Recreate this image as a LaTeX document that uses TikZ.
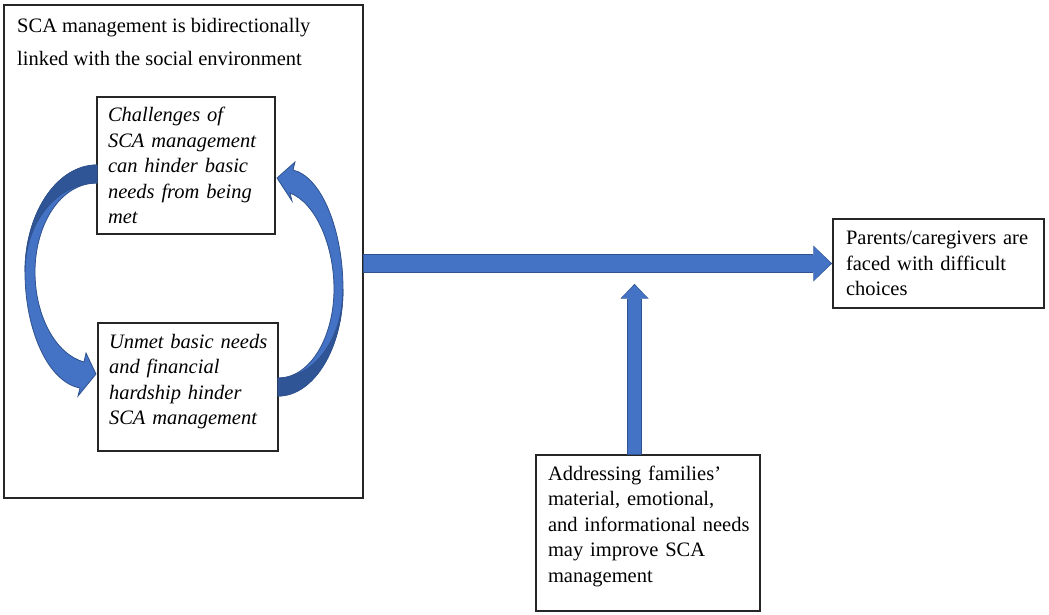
\documentclass[tikz,border=0pt]{standalone}
\usepackage{fontspec}
\setmainfont{Liberation Serif}
\usetikzlibrary{arrows.meta}
\definecolor{flowblue}{HTML}{4472C4}
\definecolor{flowdark}{HTML}{2F5597}
\definecolor{flowedge}{HTML}{2F528F}

\tikzset{
  box/.style={draw=black!85, line width=1.1pt, align=left, inner sep=0pt,
    font=\fontsize{20.5}{25.5}\selectfont,
    execute at begin node={\rightskip=0pt plus 1fil minus 40pt}},
  itbox/.style={box, font=\fontsize{20.5}{25.5}\selectfont\itshape},
  front/.style={fill=flowblue, draw=flowedge, line width=0.8pt},
  back/.style={fill=flowdark, draw=flowedge, line width=0.8pt},
  hflow/.style={draw=flowblue, line width=16.7pt,
    -{Triangle[width=33.7pt,length=17pt,line width=0pt]},
    preaction={draw=flowedge, line width=18.3pt,
      -{Triangle[width=35.7pt,length=18.6pt,line width=0pt]},
      shorten >=-1.1pt, shorten <=-0.8pt}},
  vflow/.style={draw=flowblue, line width=13.7pt,
    -{Triangle[width=26pt,length=13pt,line width=0pt]},
    preaction={draw=flowedge, line width=15.3pt,
      -{Triangle[width=28pt,length=14.6pt,line width=0pt]},
      shorten >=-1.1pt, shorten <=-0.8pt}}
}

\begin{document}
\begin{tikzpicture}[x=1pt,y=-1pt]
\useasboundingbox (0,0) rectangle (1049,614);

% left panel
\node[box, minimum width=359pt, minimum height=493pt] (outer) at (183.5,251.5) {};
\node[anchor=north west, inner sep=0pt, align=left,
  font=\fontsize{20.5}{33}\selectfont] (title) at (17,18)
  {SCA management is bidirectionally\\linked with the social environment};
\node[itbox, text width=156pt, minimum width=178pt, minimum height=137pt] (chall) at (186,165.5)
  {Challenges of\\SCA management\\can hinder basic\\needs from being\\met};
\node[itbox, text width=158pt, minimum width=180pt, minimum height=128pt, text depth=92pt] (unmet) at (188,387)
  {Unmet basic needs\\and financial\\hardship hinder\\SCA management};

% right side
\node[box, text width=185pt, minimum width=211pt, minimum height=89pt] (parents) at (938.5,263.5)
  {Parents/caregivers are\\faced with difficult\\choices};
\node[box, text width=200pt, minimum width=224pt, minimum height=156pt, text depth=120pt] (address) at (648,533)
  {Addressing families’\\material, emotional,\\and informational needs\\may improve SCA\\management};

% loop between the two inner boxes
\filldraw[front] (97,165) .. controls (57,165) and (25,213) .. (25,272)
  .. controls (25,330) and (48,382) .. (80,388)
  -- (78,396) -- (96,374) -- (86,353) -- (84,362)
  .. controls (55,354) and (35,315) .. (35,272)
  .. controls (35,225) and (60,183) .. (97,183) -- cycle;
\filldraw[back] (97,165) .. controls (57,165) and (25,213) .. (25,272)
  .. controls (25,222) and (57,183) .. (97,183) -- cycle;

\filldraw[front] (278,396) .. controls (314,396) and (343,348) .. (343,289)
  .. controls (343,231) and (322,177) .. (293,170)
  -- (295,162) -- (277,178) -- (292,201) -- (290,193)
  .. controls (316,203) and (334,246) .. (334,289)
  .. controls (334,336) and (311,378) .. (278,378) -- cycle;
\filldraw[back] (278,396) .. controls (314,396) and (343,348) .. (343,289)
  .. controls (343,339) and (314,378) .. (278,378) -- cycle;

% block arrows
\coordinate (meet) at (634.5,285);
\draw[hflow] (outer.east |- parents.west) -- ([xshift=-1.5pt]parents.west);
\draw[vflow] (address.north -| meet) -- (meet);
\end{tikzpicture}
\end{document}
